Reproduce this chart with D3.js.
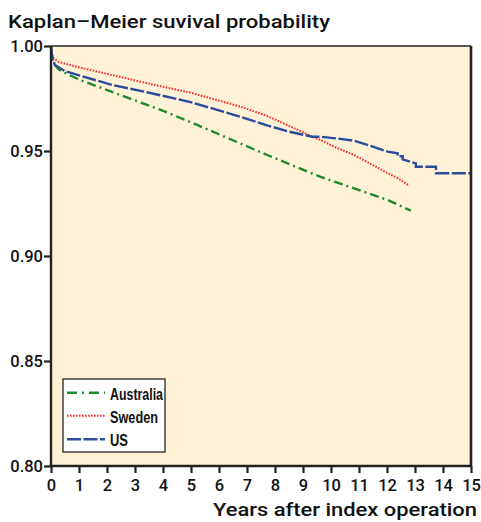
<!DOCTYPE html>
<html>
<head>
<meta charset="utf-8">
<script src="https://cdn.jsdelivr.net/npm/d3@7/dist/d3.min.js"></script>
<style>
  html, body { margin: 0; padding: 0; background: #ffffff; }
  svg { display: block; }
</style>
</head>
<body>
<svg id="chart" width="481" height="522"></svg>
<script>
// ---- Data ----
const xTicks = [0,1,2,3,4,5,6,7,8,9,10,11,12,13,14,15];
const yTicks = [0.80, 0.85, 0.90, 0.95, 1.00];
const seriesNames = ["Australia", "Sweden", "US"];

const australiaT = [0, 0.04, 0.14, 0.26, 0.6, 1.04, 2.89, 3.9, 5.22, 7.72, 9.63, 10.82, 12.02, 12.85];
const australiaV = [1.0, 0.994, 0.991, 0.989, 0.9865, 0.9838, 0.9746, 0.9697, 0.9624, 0.9481, 0.9377, 0.9322, 0.9267, 0.9216];

const swedenT = [0, 0.03, 0.1, 0.26, 1.04, 2.17, 3.55, 4.98, 6.77, 7.66, 8.5, 9.33, 9.63, 10.2, 10.82, 11.4, 12.02, 12.4, 12.75];
const swedenV = [1.0, 0.996, 0.994, 0.9925, 0.9897, 0.9862, 0.9819, 0.9778, 0.9711, 0.9670, 0.9620, 0.9568, 0.9552, 0.9515, 0.9481, 0.9440, 0.9394, 0.9370, 0.9338];

const usT = [0, 0.03, 0.08, 0.14, 0.5, 1.04, 2.17, 3.55, 4.98, 6.77, 7.72, 8.5, 9.33, 9.63, 10.2, 10.82, 11.4, 12.02, 12.38, 12.38, 12.56, 12.56, 13.03, 13.03, 13.75, 13.75, 15];
const usV = [1.0, 0.996, 0.9933, 0.991, 0.988, 0.9859, 0.9815, 0.9776, 0.9733, 0.9663, 0.9622, 0.9592, 0.9568, 0.9568, 0.9560, 0.9549, 0.9525, 0.9497, 0.9489, 0.9475, 0.9475, 0.9460, 0.9441, 0.9425, 0.9425, 0.9394, 0.9394];

const seriesT = [australiaT, swedenT, usT];
const seriesV = [australiaV, swedenV, usV];

// ---- Layout & styles ----
const colors = ["#1e8a2e", "#ff2a2a", "#2b4c9c"];
const dashes = ["9,4,2,4", "1.6,1.4", "14,2.5"];
const widths = [2.4, 2.0, 2.4];
const mainFont = "Roboto, 'Liberation Sans', Arial, sans-serif";

const svg = d3.select("#chart");
const mLeft = 51, mTop = 46, plotW = 420, plotH = 420;

const x = d3.scaleLinear().domain([0, 15]).range([mLeft, mLeft + plotW]);
const y = d3.scaleLinear().domain([0.80, 1.00]).range([mTop + plotH, mTop]);

// background
svg.append("rect")
  .attr("x", mLeft).attr("y", mTop)
  .attr("width", plotW).attr("height", plotH)
  .attr("fill", "#fff2d6");

// curves
const line = d3.line().x(d => x(d[0])).y(d => y(d[1]));
seriesNames.forEach((name, i) => {
  const pts = seriesT[i].map((t, j) => [t, seriesV[i][j]]);
  svg.append("path")
    .datum(pts)
    .attr("d", line)
    .attr("fill", "none")
    .attr("stroke", colors[i])
    .attr("stroke-width", widths[i])
    .attr("stroke-dasharray", dashes[i]);
});

// frame: top and right borders
svg.append("line").attr("x1", mLeft).attr("x2", mLeft + plotW)
  .attr("y1", mTop).attr("y2", mTop).attr("stroke", "#222").attr("stroke-width", 1.6);
svg.append("line").attr("x1", mLeft + plotW).attr("x2", mLeft + plotW)
  .attr("y1", mTop).attr("y2", mTop + plotH).attr("stroke", "#222").attr("stroke-width", 2.6);

// axes
const xAxis = d3.axisBottom(x).tickValues(xTicks).tickFormat(d3.format("d")).tickSize(7).tickPadding(6);
const yAxis = d3.axisLeft(y).tickValues(yTicks).tickFormat(d3.format(".2f")).tickSize(7).tickPadding(1);

const gx = svg.append("g").attr("transform", `translate(0,${mTop + plotH})`).call(xAxis);
const gy = svg.append("g").attr("transform", `translate(${mLeft},0)`).call(yAxis);

[gx, gy].forEach(g => {
  g.select(".domain").attr("stroke", "#222").attr("stroke-width", 2.4);
  g.selectAll(".tick line").attr("stroke", "#222").attr("stroke-width", 2.2);
  g.selectAll(".tick text")
    .attr("fill", "#111")
    .style("font-family", mainFont)
    .style("font-weight", "500")
    .style("font-size", "16.5px");
});
gy.select(".domain").attr("d", `M0,${mTop + plotH}V${mTop}`);
gx.select(".domain").attr("d", `M${mLeft},0H${mLeft + plotW}`);
gy.selectAll(".tick text").attr("dy", "0.36em");

// title
svg.append("text")
  .attr("x", 8).attr("y", 28)
  .attr("textLength", 322).attr("lengthAdjust", "spacingAndGlyphs")
  .style("font-family", mainFont)
  .style("font-weight", "500")
  .style("font-size", "18px")
  .attr("fill", "#111")
  .text("Kaplan–Meier suvival probability");

// x-axis label
svg.append("text")
  .attr("x", 477).attr("y", 516)
  .attr("text-anchor", "end")
  .attr("textLength", 264).attr("lengthAdjust", "spacingAndGlyphs")
  .style("font-family", mainFont)
  .style("font-weight", "500")
  .style("font-size", "18.5px")
  .attr("fill", "#111")
  .text("Years after index operation");

// legend
const lg = svg.append("g");
lg.append("rect")
  .attr("x", 63).attr("y", 379).attr("width", 102).attr("height", 73)
  .attr("fill", "#ffffff").attr("stroke", "#333").attr("stroke-width", 1.4);
const legY = [392.7, 415.7, 439.3];
const legTextW = [53, 48, 18];
seriesNames.forEach((name, i) => {
  lg.append("line")
    .attr("x1", 67).attr("x2", 105)
    .attr("y1", legY[i]).attr("y2", legY[i])
    .attr("stroke", colors[i])
    .attr("stroke-width", widths[i])
    .attr("stroke-dasharray", i === 0 ? "10,5,2,5" : dashes[i]);
  lg.append("text")
    .attr("x", 110).attr("y", legY[i] + 6.8)
    .attr("textLength", legTextW[i]).attr("lengthAdjust", "spacingAndGlyphs")
    .style("font-family", "'Liberation Sans', Arial, sans-serif")
    .style("font-weight", "bold")
    .style("font-size", "17px")
    .attr("fill", "#111")
    .text(name);
});
</script>
</body>
</html>
